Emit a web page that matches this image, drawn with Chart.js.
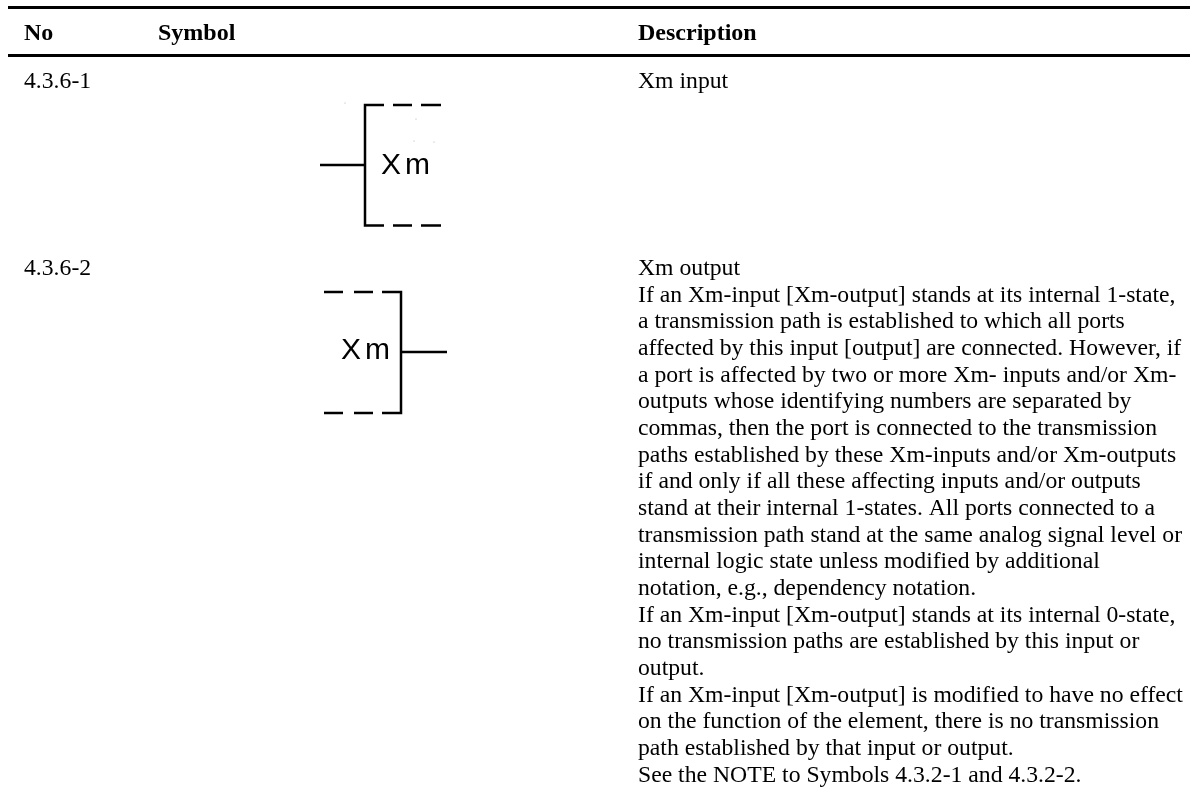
<!DOCTYPE html>
<html>
<head>
<meta charset="utf-8">
<style>
  body { margin: 0; background: #fff; }
  canvas { display: block; }
</style>
<script src="https://cdn.jsdelivr.net/npm/chart.js@4"></script>
</head>
<body>
<canvas id="tabela" width="1190" height="790"></canvas>
<script>
// Cabecalho e colunas da tabela
const cabecalhos = ['No', 'Symbol', 'Description'];
const numeros = ['4.3.6-1', '4.3.6-2'];
const descricaoLinha1 = ['Xm input'];
const descricaoLinha2 = [
  'Xm output',
  'If an Xm-input [Xm-output] stands at its internal 1-state,',
  'a transmission path is established to which all ports',
  'affected by this input [output] are connected. However, if',
  'a port is affected by two or more Xm- inputs and/or Xm-',
  'outputs whose identifying numbers are separated by',
  'commas, then the port is connected to the transmission',
  'paths established by these Xm-inputs and/or Xm-outputs',
  'if and only if all these affecting inputs and/or outputs',
  'stand at their internal 1-states. All ports connected to a',
  'transmission path stand at the same analog signal level or',
  'internal logic state unless modified by additional',
  'notation, e.g., dependency notation.',
  'If an Xm-input [Xm-output] stands at its internal 0-state,',
  'no transmission paths are established by this input or',
  'output.',
  'If an Xm-input [Xm-output] is modified to have no effect',
  'on the function of the element, there is no transmission',
  'path established by that input or output.',
  'See the NOTE to Symbols 4.3.2-1 and 4.3.2-2.'
];
const rotuloSimbolo = 'Xm';

// Tracos dos simbolos (null quebra a linha)
const regras = [
  { x: 8, y: 7.5 }, { x: 1190, y: 7.5 }, { x: null, y: null },
  { x: 8, y: 55.5 }, { x: 1190, y: 55.5 }
];
const simboloEntrada = [
  { x: 320, y: 165 }, { x: 365, y: 165 }, { x: null, y: null },
  { x: 384, y: 105 }, { x: 365, y: 105 }, { x: 365, y: 225.5 }, { x: 384, y: 225.5 }, { x: null, y: null },
  { x: 393, y: 105 }, { x: 412, y: 105 }, { x: null, y: null },
  { x: 421, y: 105 }, { x: 441, y: 105 }, { x: null, y: null },
  { x: 393, y: 225.5 }, { x: 412, y: 225.5 }, { x: null, y: null },
  { x: 421, y: 225.5 }, { x: 441, y: 225.5 }
];
const simboloSaida = [
  { x: 401, y: 352 }, { x: 447, y: 352 }, { x: null, y: null },
  { x: 382, y: 292 }, { x: 401, y: 292 }, { x: 401, y: 413 }, { x: 382, y: 413 }, { x: null, y: null },
  { x: 324, y: 292 }, { x: 343, y: 292 }, { x: null, y: null },
  { x: 354, y: 292 }, { x: 373, y: 292 }, { x: null, y: null },
  { x: 324, y: 413 }, { x: 343, y: 413 }, { x: null, y: null },
  { x: 354, y: 413 }, { x: 373, y: 413 }
];
// Pontinhos da digitalizacao em volta do primeiro simbolo
const manchas = [
  { x: 345, y: 103 }, { x: 416, y: 119 }, { x: 414, y: 141 }, { x: 434, y: 142 }
];

function conjunto(pontos, largura) {
  return { data: pontos, showLine: true, borderColor: '#000', borderWidth: largura, pointRadius: 0, spanGaps: false };
}

// Plugin que escreve os textos usando as escalas do grafico
const textoTabela = {
  id: 'textoTabela',
  afterDraw(chart) {
    const { ctx, scales: { x, y } } = chart;
    const escrever = (texto, px, py) => ctx.fillText(texto, x.getPixelForValue(px), y.getPixelForValue(py));
    ctx.save();
    ctx.fillStyle = '#000';
    ctx.textBaseline = 'alphabetic';
    ctx.font = 'bold 24px "Liberation Serif"';
    escrever(cabecalhos[0], 24, 40);
    escrever(cabecalhos[1], 158, 40);
    escrever(cabecalhos[2], 638, 40);
    ctx.font = '23.7px "Liberation Serif"';
    escrever(numeros[0], 24, 88);
    escrever(numeros[1], 24, 275);
    escrever(descricaoLinha1[0], 638, 88);
    descricaoLinha2.forEach((linha, i) => escrever(linha, 638, 275 + i * 26.67));
    ctx.font = '30px "Liberation Sans"';
    ctx.letterSpacing = '4px';
    escrever(rotuloSimbolo, 381, 174);
    escrever(rotuloSimbolo, 341, 359);
    ctx.restore();
  }
};

new Chart(document.getElementById('tabela').getContext('2d'), {
  type: 'scatter',
  data: {
    datasets: [
      conjunto(regras, 3),
      conjunto(simboloEntrada, 2.5),
      conjunto(simboloSaida, 2.5),
      { data: manchas, showLine: false, pointRadius: 0.5, pointBorderWidth: 0, pointBackgroundColor: '#999' }
    ]
  },
  options: {
    responsive: false,
    animation: false,
    layout: { padding: 0, autoPadding: false },
    plugins: { legend: { display: false }, tooltip: { enabled: false } },
    scales: {
      x: { type: 'linear', min: 0, max: 1190, display: false },
      y: { type: 'linear', min: 0, max: 790, reverse: true, display: false }
    }
  },
  plugins: [textoTabela]
});
</script>
</body>
</html>
